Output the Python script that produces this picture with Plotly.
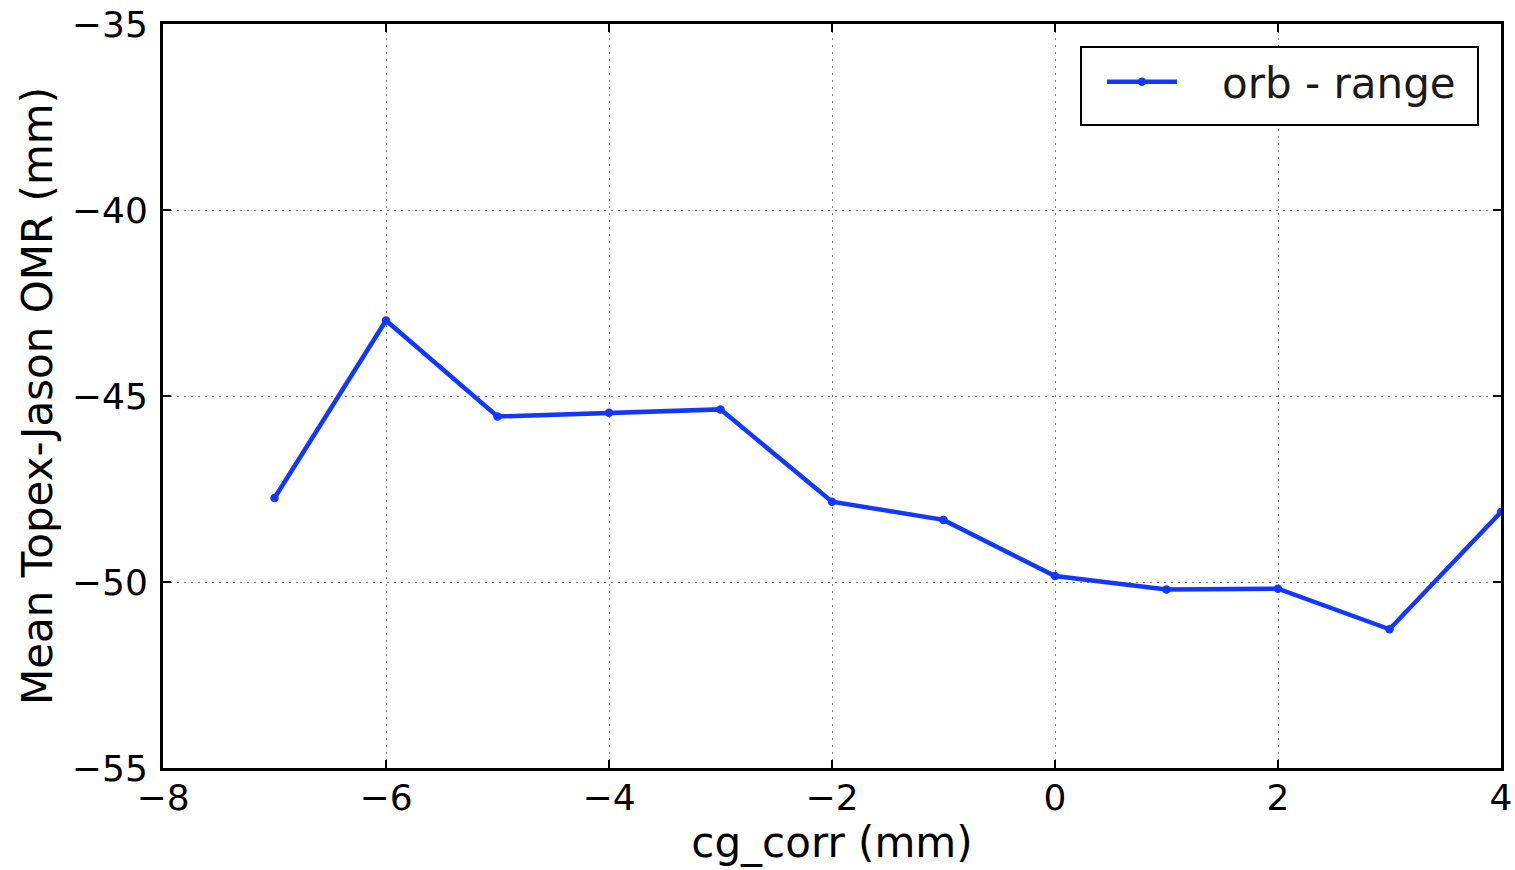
import plotly.graph_objects as go

# Mean Topex-Jason orbit-minus-range vs. centre-of-gravity correction
cg_corr = [-7, -6, -5, -4, -3, -2, -1, 0, 1, 2, 3, 4]
omr_mean = [-47.74, -42.97, -45.55, -45.45, -45.36, -47.84, -48.33,
            -49.84, -50.20, -50.18, -51.27, -48.12]

x_ticks = [-8, -6, -4, -2, 0, 2, 4]
y_ticks = [-55, -50, -45, -40, -35]

line_color = "#1238ff"
font_family = "DejaVu Sans"
NBSP = "\u00a0"

fig = go.Figure()
fig.add_trace(go.Scatter(
    x=cg_corr, y=omr_mean, mode="lines+markers",
    name=NBSP * 3 + "orb - range",
    line=dict(color=line_color, width=4.5),
    marker=dict(color=line_color, size=8.5),
))

axis_common = dict(
    showline=True, linecolor="black", linewidth=3, mirror="allticks",
    ticks="inside", ticklen=8, tickwidth=1.5, tickcolor="black",
    showgrid=True, gridcolor="#808080", gridwidth=1.3, griddash="2px,5px",
    zeroline=False, automargin=False, ticklabeloverflow="allow",
    tickfont=dict(family=font_family, size=36, color="black"),
)

fig.update_xaxes(
    range=[-8, 4], tickvals=x_ticks,
    ticktext=[f"\u2212{abs(v)}" if v < 0 else str(v) for v in x_ticks],
    ticklabelstandoff=-4,
    title=dict(text="cg_corr (mm)", font=dict(family=font_family, size=42, color="black"),
               standoff=6),
    **axis_common,
)
fig.update_yaxes(
    range=[-55, -35], tickvals=y_ticks,
    ticktext=[f"\u2212{abs(v)}" for v in y_ticks],
    ticklabelstandoff=5,
    title=dict(text="Mean Topex-Jason OMR (mm)", font=dict(family=font_family, size=42, color="black"),
               standoff=7),
    **axis_common,
)

# Legend frame
fig.add_shape(
    type="rect", xref="paper", yref="paper",
    x0=(1081 - 163) / 1338, x1=(1478 - 163) / 1338,
    y0=(768 - 125) / 744, y1=(768 - 47) / 744,
    line=dict(color="black", width=2), fillcolor="white", layer="above",
)

fig.update_layout(
    width=1515, height=870,
    margin=dict(l=163, r=14, t=24, b=102),
    plot_bgcolor="white", paper_bgcolor="white",
    showlegend=True,
    legend=dict(
        x=(1102 - 163) / 1338, y=(768 - 48) / 744, xanchor="left", yanchor="top",
        borderwidth=0, bgcolor="rgba(0,0,0,0)",
        font=dict(family=font_family, size=42, color="#1a1a1a"),
        itemwidth=70,
    ),
)

fig.write_html("out.html")
